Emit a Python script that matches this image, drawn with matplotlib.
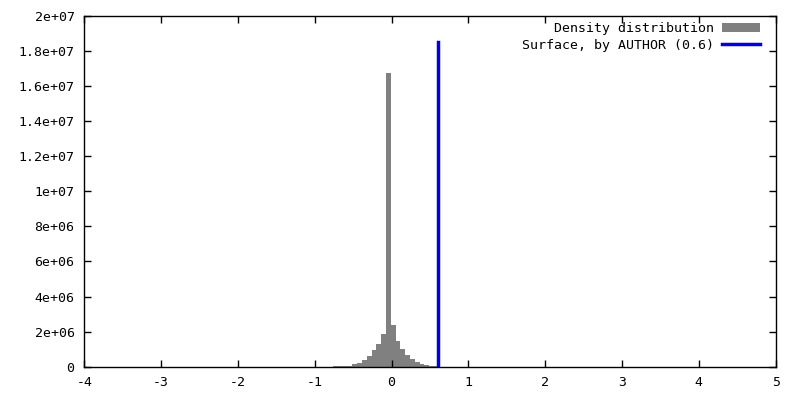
import matplotlib
matplotlib.use("Agg")
import matplotlib.pyplot as plt
from matplotlib.patches import Patch
from matplotlib.lines import Line2D

# histogram bins (left edges) and counts
bin_left = [-0.8225, -0.76, -0.6975, -0.635, -0.5725, -0.51, -0.4475, -0.385,
            -0.3225, -0.26, -0.1975, -0.135, -0.0725, -0.01, 0.0525, 0.115,
            0.1775, 0.24, 0.3025, 0.365, 0.4275, 0.49, 0.5525]
bin_width = 0.0625
density = [0.01e6, 0.015e6, 0.02e6, 0.03e6, 0.06e6, 0.13e6, 0.23e6, 0.40e6,
           0.63e6, 0.93e6, 1.31e6, 1.85e6, 16.73e6, 2.40e6, 1.49e6, 1.03e6,
           0.69e6, 0.46e6, 0.25e6, 0.13e6, 0.07e6, 0.04e6, 0.02e6]

surface_x = 0.6
surface_top = 1.85e7

xticks = [-4, -3, -2, -1, 0, 1, 2, 3, 4, 5]
yticks = [0, 2e6, 4e6, 6e6, 8e6, 1e7, 1.2e7, 1.4e7, 1.6e7, 1.8e7, 2e7]
ylabels = ['0', '2e+06', '4e+06', '6e+06', '8e+06', '1e+07', '1.2e+07',
           '1.4e+07', '1.6e+07', '1.8e+07', '2e+07']

plt.rcParams['font.family'] = 'DejaVu Sans Mono'
plt.rcParams['font.size'] = 9.5

fig = plt.figure(figsize=(8, 4), dpi=100)
ax = fig.add_axes([0.1054, 0.0833, 0.8642, 0.8767])

ax.bar(bin_left, density, width=bin_width, align='edge', color='#808080',
       linewidth=0)
ax.plot([surface_x, surface_x], [0, surface_top], color='#0000e0', lw=2.5)

ax.set_xlim(-4, 5)
ax.set_ylim(0, 2e7)
ax.set_xticks(xticks)
ax.set_xticklabels([str(t) for t in xticks])
ax.set_yticks(yticks)
ax.set_yticklabels(ylabels)
ax.tick_params(direction='in', length=5, width=1, top=True, right=True,
               pad=7, colors='black')
for s in ax.spines.values():
    s.set_linewidth(1)

handles = [Patch(facecolor='#808080', edgecolor='none'),
           Line2D([0], [0], color='#0000e0', lw=2.5)]
labels = ['Density distribution', 'Surface, by AUTHOR (0.6)']
ax.legend(handles, labels, loc='upper right', frameon=False, markerfirst=False,
          handlelength=2.9, handleheight=0.6, handletextpad=0.6,
          labelspacing=0.25, borderaxespad=0,
          bbox_to_anchor=(1 - 10 / 691.4, 1 - 1 / 350.7))

fig.savefig('out.png', dpi=100)
